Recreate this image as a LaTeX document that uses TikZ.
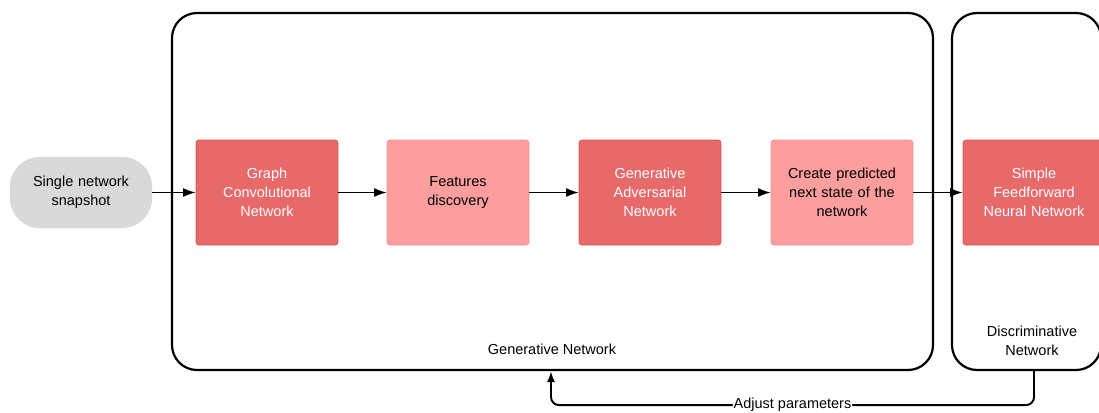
\documentclass[tikz,border=0pt]{standalone}
\usepackage{fontspec}
\setmainfont{Liberation Sans}
\usetikzlibrary{shapes}
\usetikzlibrary{arrows.meta}
\usetikzlibrary{positioning}

\definecolor{darkred}{HTML}{E8696A}
\definecolor{darkredline}{HTML}{CF5757}
\definecolor{lightred}{HTML}{FD9E9E}
\definecolor{lightredline}{HTML}{F29191}
\definecolor{snapgray}{HTML}{D9D9DA}

\begin{document}
\begin{tikzpicture}
                [x=1pt, y=-1pt,
                 every node/.style={font=\fontsize{14.5}{19}\selectfont, align=center},
                 darkbox/.style={rectangle, rounded corners=3pt, fill=darkred, draw=darkredline, line width=0.8pt,
                                 minimum width=142pt, minimum height=105pt, text width=130pt, text=white, outer sep=0pt},
                 lightbox/.style={darkbox, fill=lightred, draw=lightredline, text=black},
                 container/.style={rectangle, rounded corners=25pt, draw, line width=2.2pt},
                 flowarrow/.style={-{Latex[length=13pt,width=9pt]}, line width=1.9pt}]
                \useasboundingbox (0,0) rectangle (1099,412);
                % containers
                \node (gen) [container, minimum width=761pt, minimum height=357pt] at (552.5,191.5) { };
                \node (disc) [container, minimum width=149pt, minimum height=357pt] at (1026.5,191.5) { };
                \node (genlbl) at (552,349) {Generative Network};
                \node (disclbl) at (1032,341) {Discriminative\\Network};
                % boxes
                \node (snap) [rectangle, rounded corners=30pt, fill=snapgray, draw=gray!40, densely dotted,
                              minimum width=142pt, minimum height=71pt, text width=130pt, outer sep=0pt] at (81,192.5) {Single network\\snapshot};
                \node (gcn) [darkbox, right=44pt of snap] {Graph\\Convolutional\\Network};
                \node (feat) [lightbox, right=49pt of gcn] {Features\\discovery};
                \node (gan) [darkbox, right=50pt of feat] {Generative\\Adversarial\\Network};
                \node (pred) [lightbox, right=50pt of gan] {Create predicted\\next state of the\\network};
                \node (sfnn) [darkbox, right=50pt of pred] {Simple\\Feedforward\\Neural Network};
                % arrows
                \draw [flowarrow] (snap) -- (gcn);
                \draw [flowarrow] (gcn) -- (feat);
                \draw [flowarrow] (feat) -- (gan);
                \draw [flowarrow] (gan) -- (pred);
                \draw [flowarrow] (pred) -- (sfnn);
                \draw [flowarrow, -{Latex[length=11pt,width=8pt]}, rounded corners=8pt] (sfnn |- disc.south) -- ++(0,34)
                      -| node [pos=0.25, fill=white, inner sep=1pt] (adj) {Adjust parameters} ([xshift=-1.5pt]gen.south);
            \end{tikzpicture}
\end{document}
